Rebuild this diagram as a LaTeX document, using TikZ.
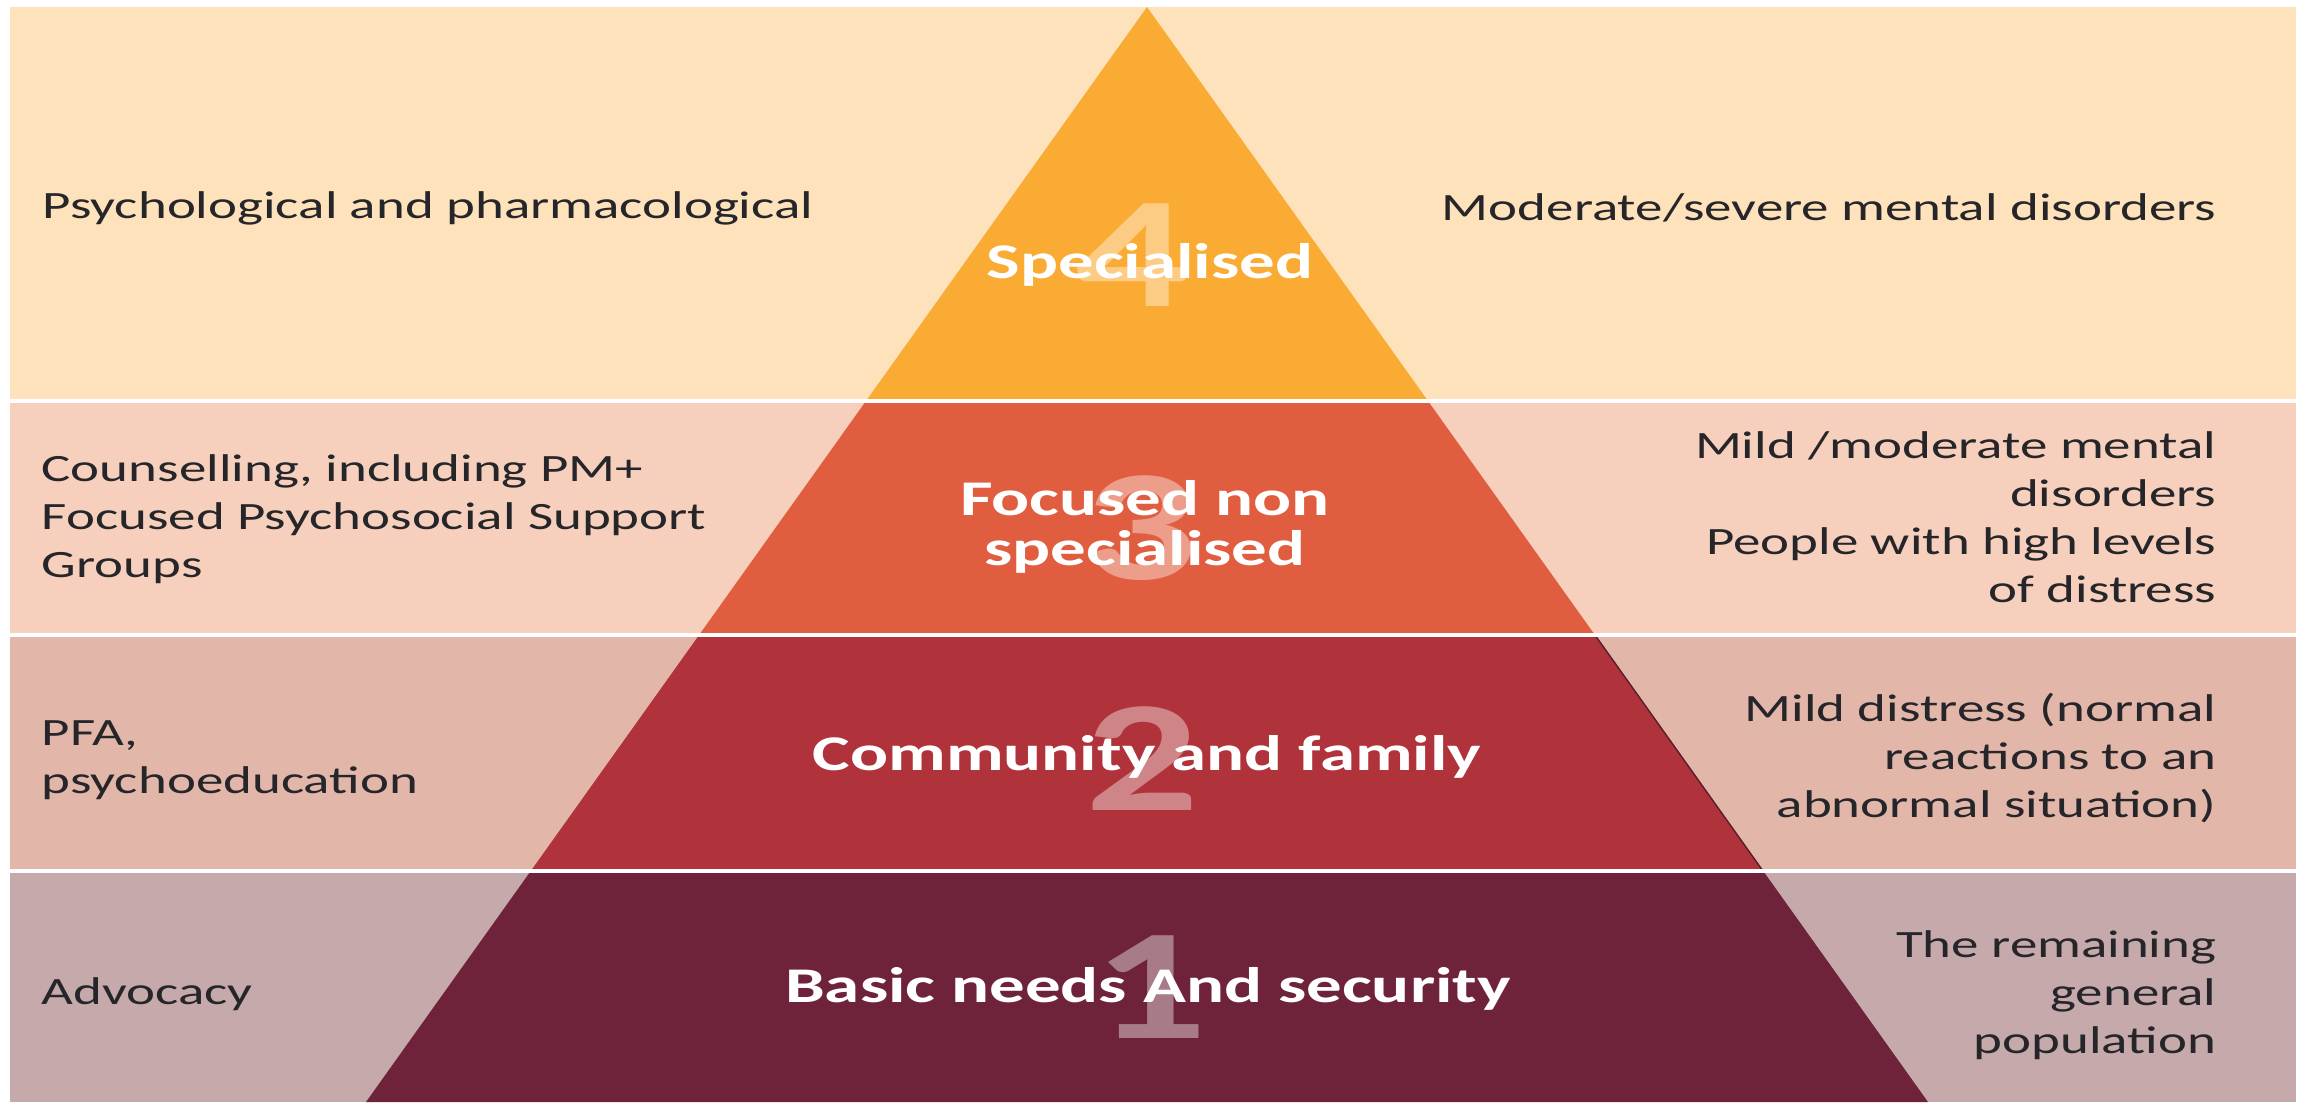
\documentclass[tikz,border=0pt]{standalone}
\usepackage{fontspec}
\setmainfont{Carlito}[FakeStretch=1.42]

\definecolor{bgfour}{RGB}{253,226,187}
\definecolor{trifour}{RGB}{250,171,51}
\definecolor{bgthree}{RGB}{246,208,189}
\definecolor{trithree}{RGB}{224,94,63}
\definecolor{bgtwo}{RGB}{226,183,170}
\definecolor{tritwo}{RGB}{176,50,58}
\definecolor{bgone}{RGB}{198,169,171}
\definecolor{trione}{RGB}{111,35,58}
\definecolor{sidetext}{RGB}{38,38,42}

\begin{document}
\begin{tikzpicture}[x=0.01cm,y=-0.01cm,
  side/.style={inner sep=0pt,text=sidetext,font=\fontsize{11}{13.6}\selectfont},
  tier/.style={inner sep=0pt,text=white,align=center,font=\fontsize{14.2}{14.2}\selectfont\bfseries},
  num/.style={inner sep=0pt,text=white,text opacity=0.4,font=\fontsize{45}{45}\selectfont\bfseries},
  sep/.style={white,line width=1pt},
  rim/.style={draw=trione!80!black,line width=0.4pt}]

\useasboundingbox (0,0) rectangle (2305,1102);
\coordinate (apex) at (1147,7);
\coordinate (bl) at (366,1102);
\coordinate (br) at (1928,1102);

\foreach \ytop/\ybot/\bg/\tri in {7/401/bgfour/trifour,401/635/bgthree/trithree,635/871/bgtwo/tritwo,871/1102/bgone/trione}{
  \fill[\bg] (10,\ytop) rectangle (2296,\ybot);
  \begin{scope}
    \clip (10,\ytop) rectangle (2296,\ybot);
    \fill[\tri] (apex) -- (bl) -- (br) -- cycle;
  \end{scope}
}
\draw[rim] (1595,635) -- (1763,871);
\foreach \y in {401,635,871}
  \draw[sep] (10,\y) -- (2296,\y);

\node[num] (num4) at (1132,255) {4};
\node[num] (num3) at (1140,528) {3};
\node[num] (num2) at (1142,759) {2};
\node[num] (num1) at (1150,987) {1};

\node[tier,anchor=base] (tier4) at (1150,278) {Specialised};
\node[tier,anchor=base] (tier3) at (1145,565) {Focused non\\specialised};
\node[tier,anchor=base] (tier2) at (1147,770) {Community and family};
\node[tier,anchor=base] (tier1) at (1148,1002) {Basic needs And security};

\node[side,anchor=base west,align=left] (left4) at (42,218) {Psychological and pharmacological};
\node[side,anchor=base west,align=left] (left3) at (41,577) {Counselling, including PM+\\Focused Psychosocial Support\\Groups};
\node[side,anchor=base west,align=left] (left2) at (41,793) {PFA,\\psychoeducation};
\node[side,anchor=base west,align=left] (left1) at (41,1004) {Advocacy};

\node[side,anchor=base east,align=right] (right4) at (2217,220) {Moderate/severe mental disorders};
\node[side,anchor=base east,align=right] (right3) at (2217,602) {Mild /moderate mental\\disorders\\People with high levels\\of distress};
\node[side,anchor=base east,align=right] (right2) at (2217,817) {Mild distress (normal\\reactions to an\\abnormal situation)};
\node[side,anchor=base east,align=right] (right1) at (2217,1053) {The remaining\\general\\population};

\end{tikzpicture}
\end{document}
